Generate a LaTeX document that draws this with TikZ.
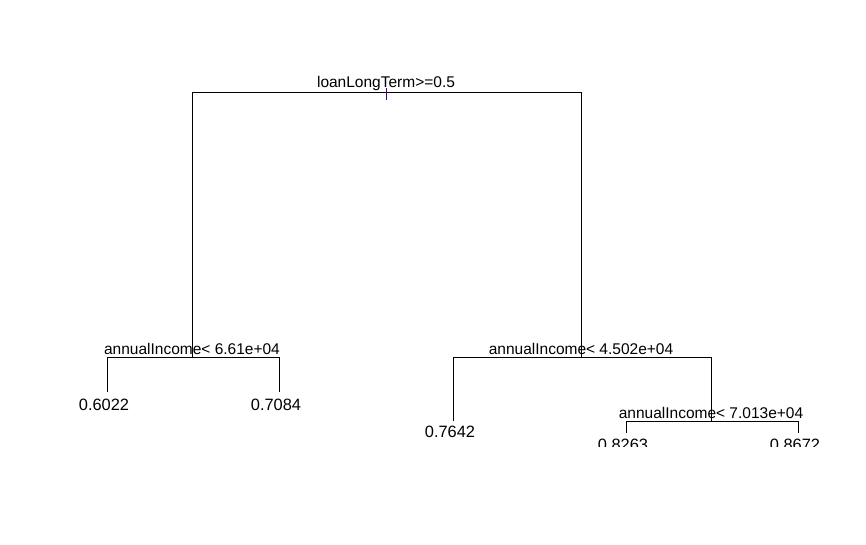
\documentclass[tikz,border=0pt]{standalone}
\usepackage{fontspec}
\setmainfont{Liberation Sans}
\definecolor{tickcol}{RGB}{75,0,130}
\begin{document}
\begin{tikzpicture}[x=1pt,y=-1pt,
  edge/.style={draw=black,line width=0.9pt},
  lab/.style={inner sep=0pt,anchor=base,font=\fontsize{15.5}{18}\selectfont},
  leaf/.style={inner sep=0pt,anchor=base,xshift=-3pt,font=\fontsize{16.4}{19}\selectfont}]
\useasboundingbox[fill=white] (0,0) rectangle (866,545);
\begin{scope}
\clip (0,70) rectangle (866,446);
% node coordinates
\coordinate (r) at (386,92);
\coordinate (rl) at (192,92);
\coordinate (rr) at (581,92);
\coordinate (a) at (192,357);
\coordinate (al) at (107,357);
\coordinate (ar) at (279,357);
\coordinate (b) at (581,357);
\coordinate (bl) at (453,357);
\coordinate (br) at (711,357);
\coordinate (c) at (711,421);
\coordinate (cl) at (626,421);
\coordinate (cr) at (798,421);
\coordinate (l1) at (107,392);
\coordinate (l2) at (279,392);
\coordinate (l3) at (453,421);
\coordinate (l4) at (626,433);
\coordinate (l5) at (798,433);
% edges
\draw[edge] (a) -- (rl) -- (rr) -- (b);
\draw[edge] (l1) -- (al) -- (ar) -- (l2);
\draw[edge] (l3) -- (bl) -- (br) -- (c);
\draw[edge] (l4) -- (cl) -- (cr) -- (l5);
% labels
\node[lab] (t0) at (386,88) {loanLongTerm>=0.5};
\node[lab] (t1) at (192,354) {annualIncome< 6.61e+04};
\node[lab] (t2) at (581,354) {annualIncome< 4.502e+04};
\node[lab] (t3) at (711,418) {annualIncome< 7.013e+04};
\node[leaf] (v1) at (107,410) {0.6022};
\node[leaf] (v2) at (279,410) {0.7084};
\node[leaf] (v3) at (453,437) {0.7642};
\node[leaf] (v4) at (626,450) {0.8263};
\node[leaf] (v5) at (798,450) {0.8672};
% tick
\coordinate (tk) at (386,100);
\draw[draw=tickcol,line width=1pt] (r) ++(0,-4) -- (tk);
\end{scope}
\end{tikzpicture}
\end{document}
